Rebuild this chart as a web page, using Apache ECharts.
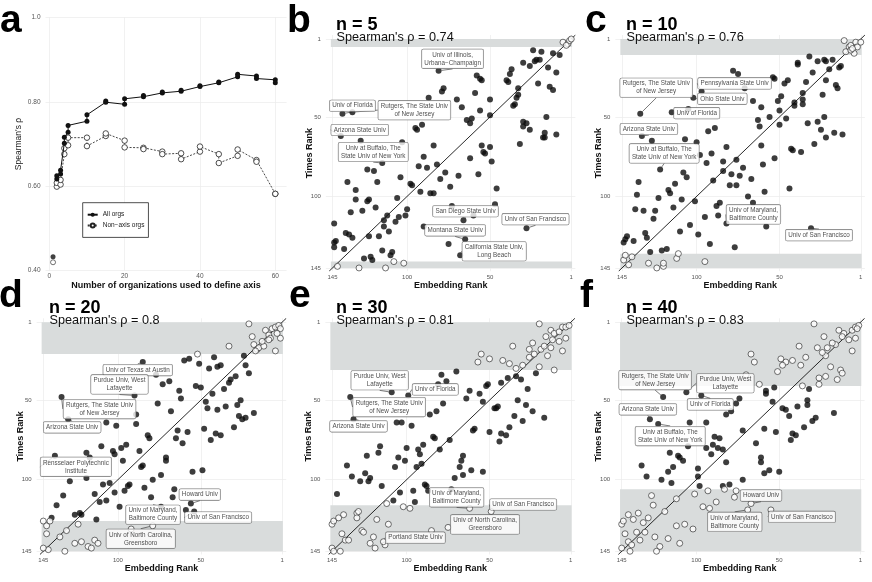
<!DOCTYPE html>
<html lang="en">
<head>
<meta charset="UTF-8">
<title>Embedding rank vs Times rank</title>
<script src="https://cdn.jsdelivr.net/npm/echarts@6.0.0/dist/echarts.min.js"></script>
<style>
  html, body { margin: 0; padding: 0; background: #fff; }
  #main { width: 872px; height: 582px; }
</style>
</head>
<body>
<div id="main"></div>
<script>
// ---- panel a : Spearman's rho vs number of axis organizations (two runs per n) ----
var orgCounts = [2, 3, 4, 5, 10, 15, 20, 25, 30, 35, 40, 45, 50, 55, 60];
var allOrgsA  = [0.617, 0.629, 0.702, 0.728, 0.754, 0.799, 0.794, 0.812, 0.821, 0.825, 0.836, 0.845, 0.859, 0.861, 0.852];
var allOrgsB  = [0.625, 0.638, 0.716, 0.744, 0.769, 0.802, 0.807, 0.815, 0.823, 0.827, 0.838, 0.847, 0.865, 0.855, 0.845];
var nonAxisA  = [0.599, 0.604, 0.676, 0.697, 0.715, 0.719, 0.708, 0.691, 0.682, 0.678, 0.682, 0.676, 0.672, 0.662, 0.582];
var nonAxisB  = [0.608, 0.615, 0.690, 0.715, 0.695, 0.725, 0.692, 0.688, 0.676, 0.664, 0.694, 0.655, 0.687, 0.658, 0.582];
var oneOrgAll = 0.433;
var oneOrgNonAxis = 0.420;

// ---- panels b-f : [embedding rank, times rank] ----
var rankTicks = [1, 50, 100, 145];
var axisSizes = [5, 10, 20, 30, 40];
var rhoValues = ['0.74', '0.76', '0.8', '0.81', '0.83'];

var filledB = [[24,8],[19,9],[12,10],[8,11],[20,14],[22,14],[23,15],[30,16],[26,18],[37,20],[38,23],[15,19],[10,22],[58,24],[56,26],[55,27],[40,27],[39,28],[21,29],[14,31],[12,33],[33,32],[78,32],[79,34],[59,35],[33,36],[34,38],[70,39],[87,38],[50,39],[35,42],[36,43],[67,44],[56,46],[50,49],[61,51],[64,52],[62,54],[16,50],[30,53],[28,54],[91,55],[95,57],[94,58],[30,56],[26,58],[17,60],[17,63],[10,61],[18,63],[128,65],[103,66],[32,67],[84,68],[55,68],[50,69],[54,72],[53,73],[49,78],[62,76],[90,75],[82,80],[93,81],[88,82],[77,85],[69,87],[57,86],[124,83],[120,84],[104,88],[118,91],[136,91],[80,89],[74,94],[98,92],[97,93],[131,96],[92,97],[86,98],[84,98],[46,95],[131,102],[123,102],[124,103],[106,101],[47,105],[73,106],[134,110],[127,109],[119,107],[100,108],[101,112],[112,112],[114,115],[107,116],[105,113],[60,112],[90,119],[144,117],[137,123],[135,124],[133,126],[114,119],[111,122],[123,125],[117,125],[144,129],[143,128],[144,132],[138,133],[126,139],[122,138],[121,140],[115,134],[109,135],[110,137],[75,130]];
var openB = [[6,3],[3,4],[2,2],[4,5],[1,1],[142,144],[129,145],[113,145],[108,141],[102,142]];
var labelsB = [
  ['Univ of Illinois,\nUrbana\u2212Champaign', 81, 21, 0],
  ['Univ of Florida', 139, 48, 0],
  ['Rutgers, The State Univ\nof New Jersey', 133, 47, 0],
  ['Arizona State Univ', 140, 62, 0],
  ['Univ at Buffalo, The\nState Univ of New York', 115, 79, 0],
  ['San Diego State Univ', 66, 115, 0],
  ['Univ of San Francisco', 28, 120, 0],
  ['Montana State Univ', 65, 127, 0],
  ['California State Univ,\nLong Beach', 68, 137, 0]
];

var filledC = [[32,12],[27,15],[39,16],[39,17],[18,14],[22,15],[23,14],[13,18],[14,19],[20,20],[78,21],[75,23],[30,22],[54,25],[53,26],[45,27],[47,29],[22,27],[34,28],[16,30],[15,32],[71,32],[24,36],[36,35],[49,37],[51,40],[36,39],[41,41],[41,43],[36,42],[66,40],[61,44],[105,45],[56,50],[50,46],[46,51],[63,52],[62,56],[50,55],[33,54],[27,53],[23,50],[25,58],[22,63],[17,60],[12,61],[29,67],[89,57],[93,59],[127,65],[107,64],[100,66],[61,68],[82,69],[43,70],[42,71],[37,72],[98,74],[91,73],[53,76],[76,77],[84,78],[94,79],[60,80],[72,82],[84,84],[79,86],[108,85],[106,88],[74,87],[67,89],[90,90],[135,91],[113,92],[76,93],[117,96],[116,98],[80,93],[44,95],[136,99],[59,97],[123,101],[109,102],[101,103],[69,100],[66,104],[137,108],[132,109],[125,109],[126,114],[114,107],[88,106],[86,104],[95,113],[87,112],[104,118],[110,122],[58,119],[144,129],[143,127],[142,125],[138,128],[131,123],[130,126],[128,135],[121,134],[118,133],[99,124],[92,130],[77,132]];
var openC = [[11,2],[8,6],[7,5],[4,3],[3,6],[5,10],[10,9],[7,8],[1,3],[6,7],[144,140],[143,137],[141,143],[139,138],[129,142],[124,145],[120,144],[120,142],[112,139],[111,136],[95,141]];
var labelsC = [
  ['Rutgers, The State Univ\nof New Jersey', 134, 48, 0],
  ['Pennsylvania State Univ', 97, 34, 0],
  ['Ohio State Univ', 102, 38, 0],
  ['Univ of Florida', 115, 47, 0],
  ['Arizona State Univ', 133, 62, 0],
  ['Univ at Buffalo, The\nState Univ of New York', 122, 83, 0],
  ['Univ of Maryland,\nBaltimore County', 82, 117, 0],
  ['Univ of San Francisco', 31, 120, 0]
];

var filledD = [[60,25],[57,24],[42,23],[51,27],[45,30],[40,29],[38,28],[24,22],[21,33],[23,28],[77,34],[73,40],[69,38],[32,37],[33,39],[29,35],[53,41],[50,42],[36,43],[63,44],[43,46],[62,49],[76,52],[47,51],[46,55],[40,56],[35,54],[28,53],[26,50],[68,57],[89,59],[27,60],[25,62],[23,61],[18,58],[107,64],[101,66],[89,65],[30,67],[64,69],[58,70],[48,68],[41,71],[38,72],[44,75],[82,72],[81,74],[65,74],[61,77],[110,79],[103,82],[102,84],[98,80],[95,78],[87,82],[119,83],[117,86],[97,88],[86,92],[85,91],[71,86],[71,88],[119,99],[129,101],[74,97],[79,100],[55,95],[49,94],[105,102],[109,103],[93,103],[94,104],[96,107],[84,105],[133,110],[114,109],[102,108],[111,114],[107,113],[137,116],[66,106],[67,111],[80,111],[99,117],[59,119],[140,124],[126,122],[123,121],[122,122],[113,125]];
var openD = [[21,2],[19,10],[33,16],[52,21],[18,15],[16,18],[15,17],[12,16],[11,6],[9,9],[7,5],[5,4],[3,3],[2,5],[2,11],[5,19],[8,11],[9,12],[13,13],[17,19],[4,8],[145,126],[143,129],[141,126],[143,134],[135,136],[131,132],[124,128],[126,140],[122,139],[118,142],[116,143],[114,138],[112,140],[142,144],[145,143],[132,145],[92,131]];
var labelsD = [
  ['Univ of Texas at Austin', 85, 26, 0],
  ['Purdue Univ, West\nLafayette', 90, 47, 0],
  ['Rutgers, The State Univ\nof New Jersey', 134, 48, 0],
  ['Arizona State Univ', 130, 62, 0],
  ['Rensselaer Polytechnic\nInstitute', 138, 85, 0],
  ['Howard Univ', 56, 115, 0],
  ['Univ of Maryland,\nBaltimore County', 74, 117, 0],
  ['Univ of San Francisco', 54, 120, 0],
  ['Univ of North Carolina,\nGreensboro', 79, 129, 1]
];

var filledE = [[79,34],[70,32],[81,40],[76,38],[22,33],[34,35],[31,37],[52,41],[51,40],[43,39],[39,36],[27,43],[62,44],[56,46],[64,49],[54,51],[33,50],[28,53],[78,52],[47,55],[46,55],[45,54],[82,57],[86,59],[24,57],[17,61],[35,60],[30,63],[106,64],[103,64],[97,66],[59,68],[60,69],[50,70],[43,71],[40,72],[38,67],[44,76],[84,73],[83,74],[74,75],[80,81],[116,79],[117,83],[124,85],[100,80],[93,81],[92,84],[90,78],[105,86],[101,88],[136,91],[107,92],[91,90],[94,92],[66,85],[67,88],[68,92],[61,94],[54,95],[133,98],[125,96],[128,101],[122,99],[123,101],[115,104],[71,99],[66,97],[89,103],[88,104],[87,107],[96,107],[104,108],[142,109],[108,113],[95,114],[73,106]];
var openE = [[20,2],[36,16],[55,21],[57,26],[50,24],[42,25],[38,27],[34,30],[30,28],[26,18],[24,14],[26,23],[23,21],[20,29],[19,18],[17,16],[15,22],[13,17],[11,31],[6,19],[16,10],[13,6],[11,8],[8,7],[6,4],[4,4],[2,3],[4,11],[8,13],[12,12],[112,115],[102,117],[98,118],[145,128],[144,126],[141,124],[138,122],[130,121],[129,120],[130,124],[118,125],[111,128],[139,134],[137,138],[135,138],[127,132],[126,133],[120,136],[122,140],[119,143],[113,141],[145,143],[144,145],[140,145],[85,132]];
var labelsE = [
  ['Purdue Univ, West\nLafayette', 109, 45, 0],
  ['Univ of Florida', 99, 47, 0],
  ['Rutgers, The State Univ\nof New Jersey', 134, 48, 0],
  ['Arizona State Univ', 132, 62, 0],
  ['Univ of Maryland,\nBaltimore County', 62, 118, 1],
  ['Univ of San Francisco', 49, 120, 1],
  ['Univ of North Carolina,\nGreensboro', 75, 130, 1],
  ['Portland State Univ', 114, 139, 1]
];

var filledF = [[74,49],[76,52],[79,57],[82,59],[58,44],[58,46],[53,42],[54,51],[48,55],[46,56],[44,60],[39,54],[33,50],[32,43],[33,53],[30,63],[28,61],[17,58],[35,67],[52,70],[59,68],[64,77],[72,69],[84,81],[87,80],[86,74],[89,73],[90,78],[91,84],[94,80],[94,64],[104,64],[105,79],[116,83],[111,85],[110,86],[108,88],[114,92],[117,95],[133,91],[130,98],[121,100],[115,102],[99,93],[99,98],[82,89],[61,86],[61,89],[59,96],[56,94],[50,95],[72,100],[80,103],[84,104],[98,104],[42,71],[40,72],[43,75]];
var openF = [[29,2],[14,6],[11,8],[6,6],[4,4],[2,3],[3,5],[4,11],[6,19],[8,12],[12,10],[16,15],[18,14],[21,17],[22,22],[23,10],[27,17],[24,20],[38,16],[34,23],[37,28],[42,25],[46,26],[48,28],[49,24],[51,32],[19,29],[22,35],[26,36],[26,40],[36,41],[15,37],[13,31],[12,33],[67,21],[65,26],[70,34],[62,40],[127,110],[126,116],[112,112],[101,109],[93,107],[88,114],[96,117],[92,118],[83,106],[77,111],[76,107],[145,128],[144,126],[141,122],[138,125],[135,121],[132,127],[129,124],[119,120],[107,128],[102,131],[143,134],[141,139],[139,141],[136,133],[134,138],[131,133],[125,136],[122,142],[117,137],[112,129],[110,140],[145,143],[140,145],[124,145]];
var labelsF = [
  ['Rutgers, The State Univ\nof New Jersey', 120, 48, 0],
  ['Purdue Univ, West\nLafayette', 106, 45, 0],
  ['Univ of Florida', 97, 47, 0],
  ['Arizona State Univ', 128, 62, 0],
  ['Univ at Buffalo, The\nState Univ of New York', 123, 65, 0],
  ['Howard Univ', 67, 115, 1],
  ['Univ of Maryland,\nBaltimore County', 69, 119, 1],
  ['Univ of San Francisco', 55, 119, 1]
];

// ---- layout (pixels) ----
var FONT = 'Liberation Sans, Arial, Helvetica, sans-serif';
var SX = 1.658, SY = 1.59;            // px per rank
var X_LO = -1.5, X_HI = 149, Y_LO = -1.5, Y_HI = 147;
var panelAnchors = [[332.5, 39], [622, 39], [43.3, 322.3], [332, 322.3], [621.7, 322.3]]; // px of rank 145 (x) and rank 1 (y)
var textLeft = [336, 626, 49, 336, 626];
var labelOffsets = [
  [[14,-12],[10,-8],[62,-2],[19,-6],[-9,-11],[2,-9],[9,-9],[-10,-9],[34,-4]],
  [[16,-26],[33,-8],[29,1],[25,1],[7,-7],[4,-16],[27,-9],[8,7]],
  [[-5,8],[-15,-11],[38,12],[4,8],[21,11],[9,-9],[-8,8],[24,6],[-12,13]],
  [[-12,-12],[27,-6],[39,10],[5,7],[-13,-11],[32,-7],[37,-3],[32,-4]],
  [[-8,-17],[39,-9],[9,9],[-2,-10],[12,12],[10,-8],[-13,12],[31,7]]
];

var filledStyle = { color: '#0d0d0d' };
var openStyle = { color: '#ffffff', borderColor: '#222', borderWidth: 0.8 };

function runPath(a, b) {
  var pts = [];
  for (var i = 0; i < orgCounts.length; i++) {
    pts.push([orgCounts[i], a[i]]);
    pts.push([orgCounts[i], b[i]]);
  }
  return pts;
}

var grids = [{ left: 45.5, top: 17.3, width: 241.1, height: 253.4 }];
var xAxes = [{
  gridIndex: 0, type: 'value', min: -1, max: 63,
  name: 'Number of organizations used to define axis', nameLocation: 'middle', nameGap: 9,
  nameTextStyle: { fontSize: 9, fontWeight: 'bold', color: '#111', fontFamily: FONT },
  axisLine: { show: false }, axisTick: { show: false, customValues: [0, 20, 40, 60] },
  axisLabel: { customValues: [0, 20, 40, 60], fontSize: 6.5, color: '#555', margin: 2, fontFamily: FONT },
  splitLine: { show: true, lineStyle: { color: '#ebebeb', width: 0.7 } }
}];
var yAxes = [{
  gridIndex: 0, type: 'value', min: 0.4, max: 1.0, interval: 0.2,
  name: "Spearman's \u03c1", nameLocation: 'middle', nameGap: 22,
  nameTextStyle: { fontSize: 8.5, color: '#222', fontFamily: FONT },
  axisLine: { show: false }, axisTick: { show: false },
  axisLabel: { fontSize: 6.5, color: '#555', margin: 5, fontFamily: FONT,
    formatter: function (v) { return Math.abs(v - 1) < 1e-9 ? '1.0' : v.toFixed(2); } },
  splitLine: { show: true, lineStyle: { color: '#ebebeb', width: 0.7 } }
}];

var series = [
  { name: 'All orgs', type: 'line', xAxisIndex: 0, yAxisIndex: 0, data: runPath(allOrgsA, allOrgsB),
    symbol: 'circle', symbolSize: 5, itemStyle: { color: '#111' },
    lineStyle: { color: '#111', width: 1 }, z: 4 },
  { name: 'Non\u2212axis orgs', type: 'line', xAxisIndex: 0, yAxisIndex: 0, data: runPath(nonAxisA, nonAxisB),
    symbol: 'circle', symbolSize: 5.5, itemStyle: { color: '#fff', borderColor: '#222', borderWidth: 0.8 },
    lineStyle: { color: '#333', width: 0.9, type: [2, 1.5] }, z: 3 },
  { type: 'scatter', xAxisIndex: 0, yAxisIndex: 0, symbolSize: 5,
    data: [ { value: [1, oneOrgAll], itemStyle: { color: '#111' } },
            { value: [1, oneOrgNonAxis], itemStyle: openStyle } ], z: 4 }
];

var panels = [
  { filled: filledB, open: openB, labels: labelsB },
  { filled: filledC, open: openC, labels: labelsC },
  { filled: filledD, open: openD, labels: labelsD },
  { filled: filledE, open: openE, labels: labelsE },
  { filled: filledF, open: openF, labels: labelsF }
];

var graphics = [];
var letters = ['a', 'b', 'c', 'd', 'e', 'f'];
var letterPos = [[0, 21.5], [287, 21.5], [585, 21.5], [-1, 296.5], [289, 296.5], [580, 296.5]];
letters.forEach(function (l, i) {
  graphics.push({ type: 'text', x: letterPos[i][0], y: letterPos[i][1], z: 100,
    style: { text: l, font: 'bold 39px ' + FONT, fill: '#000', verticalAlign: 'middle' } });
});

panels.forEach(function (p, k) {
  var gi = k + 1;
  var anc = panelAnchors[k];
  var n = axisSizes[k];
  grids.push({
    left: anc[0] - (X_HI - 145) * SX,
    top: anc[1] - (1 - Y_LO) * SY,
    width: (X_HI - X_LO) * SX,
    height: (Y_HI - Y_LO) * SY
  });
  xAxes.push({
    gridIndex: gi, type: 'value', inverse: true, min: X_LO, max: X_HI,
    name: 'Embedding Rank', nameLocation: 'middle', nameGap: 10,
    nameTextStyle: { fontSize: 9, fontWeight: 'bold', color: '#111', fontFamily: FONT },
    axisLine: { show: false }, axisTick: { show: false, customValues: rankTicks },
    axisLabel: { customValues: rankTicks, fontSize: 6, color: '#555', margin: 3, fontFamily: FONT },
    splitLine: { show: true, lineStyle: { color: '#ebebeb', width: 0.7 } }
  });
  yAxes.push({
    gridIndex: gi, type: 'value', inverse: true, min: Y_LO, max: Y_HI,
    name: 'Times Rank', nameLocation: 'middle', nameGap: 12, nameMoveOverlap: false,
    nameTextStyle: { fontSize: 9, fontWeight: 'bold', color: '#111', fontFamily: FONT },
    axisLine: { show: false }, axisTick: { show: false, customValues: rankTicks },
    axisLabel: { customValues: rankTicks, fontSize: 6, color: '#555', margin: 5, fontFamily: FONT },
    splitLine: { show: true, lineStyle: { color: '#ebebeb', width: 0.7 } }
  });
  // identity line + bands of the axis organizations (top n and bottom n)
  series.push({
    type: 'line', xAxisIndex: gi, yAxisIndex: gi, silent: true, symbol: 'none',
    data: [[X_LO, X_LO], [Y_HI, Y_HI]],
    lineStyle: { color: '#111', width: 0.9 }, z: 2,
    markArea: {
      silent: true, itemStyle: { color: '#d9dcdc' },
      data: [
        [{ xAxis: 146, yAxis: 1 }, { xAxis: 0.5, yAxis: n + 1 }],
        [{ xAxis: 146, yAxis: 146 - n }, { xAxis: 0.5, yAxis: 145 }]
      ]
    }
  });
  series.push({ type: 'scatter', xAxisIndex: gi, yAxisIndex: gi, data: p.filled,
    symbolSize: 6, itemStyle: filledStyle, z: 3 });
  series.push({ type: 'scatter', xAxisIndex: gi, yAxisIndex: gi, data: p.open,
    symbolSize: 6, itemStyle: openStyle, z: 3 });
  var offs = labelOffsets[k];
  series.push({
    type: 'scatter', xAxisIndex: gi, yAxisIndex: gi, symbolSize: 6, z: 5,
    data: p.labels.map(function (r) {
      return { name: r[0], value: [r[1], r[2]], itemStyle: r[3] ? openStyle : filledStyle };
    }),
    label: {
      show: true, position: 'inside', formatter: '{b}', fontFamily: FONT,
      fontSize: 6.3, lineHeight: 8, color: '#1a1a1a', align: 'center',
      backgroundColor: '#fff', borderColor: '#555', borderWidth: 0.6, borderRadius: 1.5,
      padding: [1.5, 2.5]
    },
    labelLine: { show: true, lineStyle: { color: '#222', width: 0.6 } },
    labelLayout: function (prm) {
      var o = offs[prm.dataIndex];
      return { dx: o[0], dy: o[1] };
    }
  });
  var top = anc[1] < 100 ? 0 : 283;
  graphics.push({ type: 'text', x: textLeft[k], y: top + 25.3, z: 100,
    style: { text: 'n = ' + n, font: 'bold 18px ' + FONT, fill: '#000', verticalAlign: 'middle' } });
  graphics.push({ type: 'text', x: textLeft[k] + 0.5, y: top + 37.9, z: 100,
    style: { text: "Spearman's \u03c1 = " + rhoValues[k], font: '12.7px ' + FONT, fill: '#111', verticalAlign: 'middle' } });
});

var option = {
  animation: false,
  backgroundColor: '#fff',
  textStyle: { fontFamily: FONT },
  grid: grids,
  xAxis: xAxes,
  yAxis: yAxes,
  legend: {
    data: ['All orgs', 'Non\u2212axis orgs'],
    orient: 'vertical', left: 82.7, top: 202.7,
    padding: [8.5, 4, 8.5, 4], itemGap: 3.7, itemWidth: 10, itemHeight: 5,
    borderColor: '#222', borderWidth: 0.8, backgroundColor: '#fff',
    textStyle: { fontSize: 6.5, color: '#222', fontFamily: FONT }
  },
  graphic: graphics,
  series: series
};

var chart = echarts.init(document.getElementById('main'), null, { renderer: 'canvas' });
chart.setOption(option);
window.addEventListener('resize', chart.resize);
</script>
</body>
</html>
